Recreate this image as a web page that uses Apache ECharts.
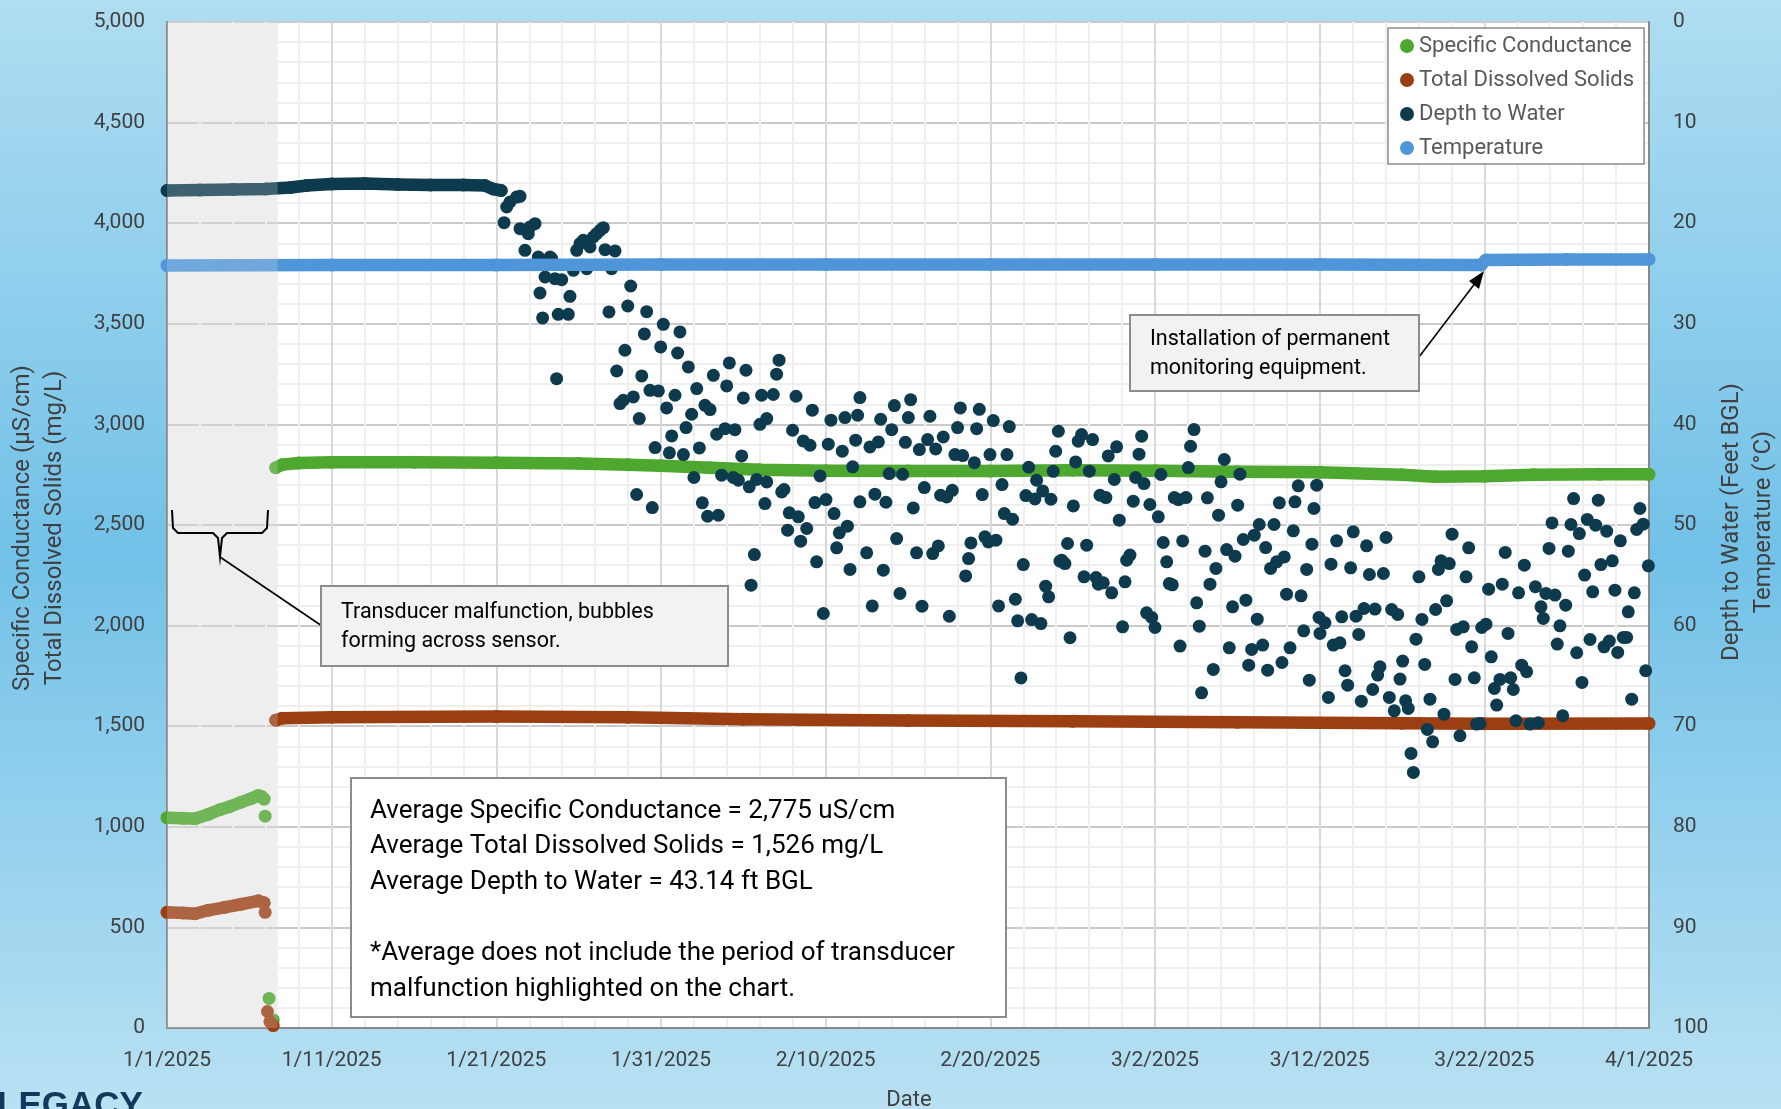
<!DOCTYPE html>
<html>
<head>
<meta charset="utf-8">
<script src="https://cdn.jsdelivr.net/npm/echarts@6/dist/echarts.min.js"></script>
<style>html,body{margin:0;padding:0;overflow:hidden;}#c{width:1781px;height:1109px;}</style>
</head>
<body>
<div id="c"></div>
<script>
// ---------- tick labels ----------
const xTickLabels = ['1/1/2025','1/11/2025','1/21/2025','1/31/2025','2/10/2025','2/20/2025','3/2/2025','3/12/2025','3/22/2025','4/1/2025'];
const leftTickLabels = ['0','500','1,000','1,500','2,000','2,500','3,000','3,500','4,000','4,500','5,000'];
const rightTickLabels = ['0','10','20','30','40','50','60','70','80','90','100'];
const legendNames = ['Specific Conductance','Total Dissolved Solids','Depth to Water','Temperature'];

// x values are days since 1/1/2025
const malfunctionPeriod = [0, 6.72];

// ---------- Specific Conductance (uS/cm) ----------
const scMalfunction = [[0,1045],[1,1042],[1.7,1040],[2.5,1062],[3.2,1085],[3.8,1100],[4.5,1122],[5.1,1140],[5.55,1155],[5.75,1150],[5.9,1138]];
const scIsolated = [[5.96,1053],[6.2,147],[6.45,40]];
const scMain = [[6.6,2785],[7,2800],[8,2808],[10,2812],[15,2812],[20,2810],[25,2806],[28,2800],[30,2795],[33,2785],[36,2775],[40,2770],[45,2768],[50,2768],[55,2772],[60,2770],[65,2765],[70,2762],[75,2750],[77,2740],[80,2742],[83,2750],[87,2752],[90,2752]];

// ---------- Total Dissolved Solids (mg/L) ----------
const tdsMalfunction = [[0,575],[1,572],[1.7,568],[2.5,585],[3.5,600],[4.5,615],[5.55,632],[5.9,622]];
const tdsIsolated = [[5.96,575],[6.1,82],[6.25,32],[6.45,12]];
const tdsMain = [[6.6,1530],[7,1540],[10,1545],[20,1548],[28,1545],[35,1535],[45,1528],[55,1525],[65,1520],[75,1515],[80,1512],[90,1514]];

// ---------- Temperature (deg C) ----------
const temperature = [[0,24.2],[10,24.15],[20,24.15],[30,24.1],[40,24.1],[50,24.1],[60,24.1],[70,24.1],[79.8,24.15],[80.1,23.65],[85,23.6],[90,23.6]];

// ---------- Depth to Water (ft BGL) ----------
const depthLine = [[0,16.75],[2,16.7],[4,16.65],[6,16.6],[7.5,16.45],[8.5,16.25],[10,16.1],[12,16.05],[14,16.15],[16,16.2],[18,16.2],[19.3,16.25],[19.8,16.6],[20.3,16.75]];

const depthScatterLateJan = [
[20.63,18.39],[20.83,17.89],[21.23,17.40],[21.44,17.33],[20.47,19.95],[21.44,20.54],[21.94,21.04],[22.04,20.38],[22.35,20.05],
[21.74,22.70],[22.55,23.36],[23.26,23.36],[23.36,23.52],[22.96,25.35],[23.56,25.51],[23.97,25.61],[22.65,26.94],[24.47,27.27],
[22.81,29.42],[23.76,29.06],[24.37,29.06],[23.66,35.45],[24.68,24.68],[24.88,22.70],[25.08,22.03],[25.28,21.70],[25.49,24.52],
[25.69,22.36],[25.89,21.37],[26.09,21.04],[26.30,20.71],[26.50,20.44],[26.60,22.63],[27.21,22.76],[27.00,24.52],[28.16,26.24],
[27.98,28.23],[26.84,28.82],[29.13,28.79],[28.99,31.01],[30.14,30.05],[31.15,30.81],[27.81,32.63],[29.98,32.30],[31.01,32.90],
[31.66,34.29],[27.31,34.69],[28.83,35.18],[32.17,36.44],[33.18,35.12],[34.15,33.89],[35.16,34.62],[33.99,36.18],[35.00,37.37],
[36.11,37.10],[27.51,37.93],[27.71,37.60],[28.32,37.27],[28.68,39.42],[29.33,36.61],[29.84,36.67],[30.85,37.10],[30.34,38.36],
[31.86,38.99],[32.67,38.10],[32.98,38.53],[31.52,40.32],[30.65,41.15],[29.64,42.30],[30.51,42.83],[31.36,43.00],[32.33,42.34],
[33.38,40.98],[33.89,40.42],[34.49,40.52],[34.90,43.13],[36.01,39.99],[36.42,39.42],[32.00,45.28],[33.68,45.05],[34.39,45.28],
[34.70,45.55],[35.36,46.21],[35.81,45.48],[36.42,45.72],[28.52,46.97],[29.47,48.27],[32.51,47.80],[32.83,49.13],[33.48,49.03],
[36.31,47.87],[35.67,52.94]
];

const depthScatterFeb = [
[37.02,35.01],[37.17,33.62],[36.82,37.03],[38.20,37.20],[39.19,38.59],[37.99,40.58],[38.64,41.64],[39.05,42.07],[40.32,39.58],
[41.17,39.32],[41.94,39.09],[42.08,37.33],[40.16,41.97],[41.01,42.66],[41.82,41.57],[41.64,44.22],[39.66,45.12],[37.33,46.71],
[37.47,46.47],[37.79,48.79],[38.34,49.19],[37.69,50.51],[38.85,50.35],[38.48,51.61],[39.35,47.77],[40.02,47.47],[40.51,48.86],
[40.83,50.78],[41.32,50.12],[40.67,52.27],[39.45,53.66],[41.48,54.42],[42.08,47.70],[35.47,55.98],[39.86,58.80],
[42.49,52.77],[42.83,58.04],[42.99,46.94],[43.66,47.74],[42.69,42.24],[43.20,41.74],[43.34,39.49],[43.86,44.89],[44.17,38.13],
[44.01,40.52],[43.50,54.49],[44.31,51.35],[44.51,56.81],[44.67,44.96],[44.84,41.78],[45.02,39.32],[45.16,37.54],[45.32,48.30],
[45.52,52.77],[45.69,42.50],[45.99,46.28],[45.85,58.07],[46.19,41.51],[46.33,39.19],[46.68,42.44],[46.50,52.84],[46.84,52.08],
[47.14,41.25],[46.98,47.04],[47.35,47.21],[47.69,46.55],[47.51,59.07],[47.85,43.00],[48.32,43.10],[48.01,40.32],[48.18,38.36],
[49.03,43.80],[48.50,55.06],[48.68,53.34],[48.82,51.78],[49.17,40.42],[49.33,38.50],[49.51,46.98],[49.67,51.18],[49.88,51.68],
[50.34,51.51],[49.98,43.00],[50.18,39.62],[50.50,58.04],[50.71,45.98],[50.85,48.86],[51.35,49.43],[51.01,43.00],[51.15,40.22],
[51.52,57.38],[51.66,59.53],[52.00,53.93],[51.86,65.20],[52.33,44.26],[52.16,47.08],[52.71,47.41],[52.81,45.55],[53.18,46.61],
[53.68,47.44],[52.51,59.40],[53.07,59.80],[53.36,56.08],[53.54,57.14],[53.82,44.66],[53.97,42.67],[54.13,40.68],[54.23,53.60]
];

const depthScatterEarlyMar = [
[54.84,61.21],[54.69,51.84],[54.33,53.50],[54.53,53.83],[55.04,48.10],[55.18,43.73],[55.34,41.67],[55.54,41.01],[56.01,44.65],
[56.21,41.51],[55.85,52.01],[55.69,55.15],[56.42,55.22],[56.56,55.88],[56.86,55.75],[56.66,47.04],[57.02,47.27],[57.16,43.13],
[57.67,42.23],[57.37,56.74],[57.53,45.48],[57.83,49.52],[58.03,60.12],[58.18,55.65],[58.28,53.50],[58.48,52.99],[58.68,47.63],
[58.82,45.28],[59.33,45.88],[59.03,42.96],[59.19,41.17],[59.69,47.96],[59.49,58.73],[59.80,59.19],[60.00,60.19],[60.20,49.19],
[60.36,44.98],[60.50,51.74],[60.71,53.66],[60.87,55.82],[61.05,55.95],[61.17,47.27],[61.42,47.47],[61.88,47.27],[61.52,62.04],
[61.68,51.58],[62.02,44.29],[62.16,42.17],[62.37,40.51],[62.53,57.74],[62.69,60.06],[62.83,66.68],[63.04,52.60],[63.18,47.30],
[63.34,55.88],[63.54,64.36],[63.70,54.32],[63.86,49.02],[64.01,45.71],[64.21,43.49],[64.35,52.44],[64.86,53.10],[64.51,62.21],
[64.71,58.13],[65.02,48.03],[65.16,44.95],[65.36,51.44],[66.03,51.01],[66.33,49.95],[65.52,57.47],[65.69,63.93],[65.87,62.37],
[66.54,61.94],[66.21,59.36],[66.72,52.24],[66.84,64.43],[67.02,54.32],[67.39,53.66],[67.85,53.17],[67.23,49.95],[67.55,47.80],
[67.71,63.67],[67.99,56.88],[68.20,62.21],[68.40,50.58],[68.50,47.70],[68.70,46.11],[68.87,57.04],[69.03,60.52],[69.21,54.42],
[69.37,65.42],[69.53,51.91],[69.65,48.36],[69.82,46.04],[69.96,59.19],[70.02,60.78]
];

const depthScatterLateMar = [
[70.32,59.72],[70.53,67.14],[70.69,53.89],[70.83,61.94],[71.23,61.71],[71.03,51.57],[71.34,59.13],[71.54,64.49],[71.70,65.92],
[71.88,54.26],[72.04,50.68],[72.21,59.06],[72.37,60.88],[72.53,67.51],[72.69,58.30],[73.36,58.36],[72.85,52.07],[73.02,54.92],
[73.22,66.35],[73.52,64.92],[73.66,64.09],[73.87,54.82],[74.03,51.24],[74.23,67.14],[74.37,58.40],[74.74,58.89],[74.53,68.47],
[74.88,65.32],[75.04,63.53],[75.22,67.47],[75.38,68.23],[75.55,72.71],[75.69,74.59],[75.85,61.35],[76.03,55.15],[76.21,59.39],
[76.38,63.86],[76.54,70.32],[76.70,67.31],[76.86,71.55],[77.04,58.40],[77.21,54.42],[77.37,53.56],[77.87,53.83],[77.55,68.80],
[77.71,57.54],[78.04,50.91],[78.22,65.35],[78.32,60.38],[78.72,60.12],[78.52,70.95],[78.89,55.15],[79.05,52.27],[79.23,62.11],
[79.39,65.19],[79.53,69.79],[79.74,69.73],[79.84,60.19],[80.10,59.86],[80.26,56.38],[80.42,63.10],[80.61,66.25],[80.95,65.35],
[80.75,67.90],[81.09,55.88],[81.27,52.73],[81.44,60.78],[81.60,65.19],[81.76,66.35],[81.92,69.46],[82.08,56.74],[82.27,63.93],
[82.57,64.59],[82.43,53.99],[82.77,69.79],[83.28,69.66],[83.10,56.14],[83.44,58.13],[83.58,59.29],[83.74,56.80],[84.29,56.97],
[83.93,52.33],[84.11,49.79],[84.43,61.84],[84.59,60.02],[84.76,68.96],[84.94,57.97],[85.10,52.60],[85.26,49.95],[85.42,47.37],
[85.61,62.70],[85.77,50.85],[85.93,65.65],[86.09,54.98],[86.25,49.45],[86.76,50.02],[86.42,61.38],[86.58,56.64],[86.92,47.53],
[87.08,53.93],[87.77,53.56],[87.27,62.11],[87.59,61.54],[87.43,50.61],[87.93,56.48],[88.10,62.67],[88.26,51.57],[88.44,61.18],
[88.64,61.18],[88.74,58.63],[88.95,67.31],[89.11,56.74],[89.25,50.45],[89.65,49.92],[89.45,48.36],[89.80,64.49],[89.96,54.06]
];

// ---------- annotation texts ----------
const statsLines = ['Average Specific Conductance = 2,775 uS/cm','Average Total Dissolved Solids = 1,526 mg/L','Average Depth to Water = 43.14 ft BGL','','*Average does not include the period of transducer','malfunction highlighted on the chart.'];
const malfunctionNote = ['Transducer malfunction, bubbles','forming across sensor.'];
const installNote = ['Installation of permanent','monitoring equipment.'];

// ---------- styles ----------
const C_SC = '#4EA72E', C_TDS = '#9B3E12', C_DTW = '#0E3A4E', C_TEMP = '#4E95D9';
const FONT = 'Roboto';
const TXT = '#404040';
const MARK = 13;

function lineSeries(name, data, color, yIdx, z) {
  return { name, type: 'line', data, xAxisIndex: 0, yAxisIndex: yIdx, z,
    symbol: 'circle', symbolSize: MARK, showSymbol: true, showAllSymbol: true,
    itemStyle: { color }, lineStyle: { color, width: MARK - 0.5, cap: 'round', join: 'round' },
    emphasis: { disabled: true }, silent: true, animation: false };
}
function scatterSeries(name, data, color, yIdx, z) {
  return { name, type: 'scatter', data, xAxisIndex: 0, yAxisIndex: yIdx, z,
    symbol: 'circle', symbolSize: MARK, itemStyle: { color, opacity: 1 },
    emphasis: { disabled: true }, silent: true, animation: false };
}

const depthScatter = depthScatterLateJan.concat(depthScatterFeb, depthScatterEarlyMar, depthScatterLateMar);

const graphics = [];
// axis titles
graphics.push({ type: 'text', x: 23, y: 528, rotation: Math.PI/2, z: 50,
  style: { text: 'Specific Conductance (µS/cm)', font: '24px ' + FONT, fill: TXT, textAlign: 'center', textVerticalAlign: 'middle' } });
graphics.push({ type: 'text', x: 55, y: 528, rotation: Math.PI/2, z: 50,
  style: { text: 'Total Dissolved Solids (mg/L)', font: '24px ' + FONT, fill: TXT, textAlign: 'center', textVerticalAlign: 'middle' } });
graphics.push({ type: 'text', x: 1732, y: 522, rotation: Math.PI/2, z: 50,
  style: { text: 'Depth to Water (Feet BGL)', font: '24px ' + FONT, fill: TXT, textAlign: 'center', textVerticalAlign: 'middle' } });
graphics.push({ type: 'text', x: 1764, y: 522, rotation: Math.PI/2, z: 50,
  style: { text: 'Temperature (°C)', font: '24px ' + FONT, fill: TXT, textAlign: 'center', textVerticalAlign: 'middle' } });
graphics.push({ type: 'text', x: 909, y: 1100, z: 50,
  style: { text: 'Date', font: '22px ' + FONT, fill: TXT, textAlign: 'center', textVerticalAlign: 'middle' } });
// logo
graphics.push({ type: 'text', x: -3, y: 1089, z: 50,
  style: { text: 'LEGACY', font: 'bold 35px "Liberation Sans"', fill: '#0F3A5C', textAlign: 'left', textVerticalAlign: 'top' } });

// stats box
graphics.push({ type: 'rect', z: 60, shape: { x: 351, y: 778, width: 655, height: 239 },
  style: { fill: '#FFFFFF', stroke: '#8C8C8C', lineWidth: 2 } });
statsLines.forEach((t, i) => {
  if (!t) return;
  graphics.push({ type: 'text', x: 370, y: 811 + i * 35.6, z: 61,
    style: { text: t, font: '26px ' + FONT, fill: '#000', textAlign: 'left', textVerticalAlign: 'middle' } });
});

// malfunction note
graphics.push({ type: 'polyline', z: 60, shape: { points: [[172,510],[173,528],[178,533],[213,533],[218,538],[220,557],[222,538],[227,533],[262,533],[267,528],[268,510]] },
  style: { stroke: '#000', lineWidth: 2, fill: null } });
graphics.push({ type: 'line', z: 60, shape: { x1: 220, y1: 557, x2: 322, y2: 626 }, style: { stroke: '#000', lineWidth: 1.6 } });
graphics.push({ type: 'rect', z: 60, shape: { x: 321, y: 586, width: 407, height: 80 },
  style: { fill: '#F2F2F2', stroke: '#8C8C8C', lineWidth: 2 } });
malfunctionNote.forEach((t, i) => {
  graphics.push({ type: 'text', x: 341, y: 613 + i * 29, z: 61,
    style: { text: t, font: '21.5px ' + FONT, fill: '#000', textAlign: 'left', textVerticalAlign: 'middle' } });
});

// installation note
graphics.push({ type: 'line', z: 60, shape: { x1: 1419, y1: 357, x2: 1476, y2: 282 }, style: { stroke: '#000', lineWidth: 1.6 } });
graphics.push({ type: 'polygon', z: 60, shape: { points: [[1484,271],[1479,289],[1469,281]] }, style: { fill: '#000' } });
graphics.push({ type: 'rect', z: 60, shape: { x: 1130, y: 315, width: 289, height: 76 },
  style: { fill: '#F2F2F2', stroke: '#8C8C8C', lineWidth: 2 } });
installNote.forEach((t, i) => {
  graphics.push({ type: 'text', x: 1150, y: 340 + i * 29, z: 61,
    style: { text: t, font: '21.5px ' + FONT, fill: '#000', textAlign: 'left', textVerticalAlign: 'middle' } });
});

const axisLineStyle = { show: true, lineStyle: { color: '#898989', width: 2 } };

const option = {
  animation: false,
  backgroundColor: { type: 'linear', x: 0, y: 0, x2: 0, y2: 1,
    colorStops: [{ offset: 0, color: '#AFDDF1' }, { offset: 0.5, color: '#72C1E8' }, { offset: 1, color: '#B9E1F3' }] },
  textStyle: { fontFamily: FONT },
  grid: { left: 167, right: 132, top: 22, bottom: 81, show: true, backgroundColor: '#FFFFFF',
    borderColor: '#898989', borderWidth: 2, z: 0, outerBoundsMode: 'none', containLabel: false },
  legend: {
    data: legendNames, orient: 'vertical', left: 1388, top: 28, itemGap: 8, icon: 'circle',
    itemWidth: 14, itemHeight: 14, padding: [5, 10, 3, 12], backgroundColor: '#FFFFFF',
    borderColor: '#8C8C8C', borderWidth: 1.5, borderRadius: 0, selectedMode: false,
    textStyle: { fontSize: 22, lineHeight: 26, color: '#595959', fontFamily: FONT }, z: 40
  },
  xAxis: {
    type: 'value', min: 0, max: 90, interval: 10, z: 1,
    axisLine: axisLineStyle, axisTick: { show: false },
    axisLabel: { formatter: v => xTickLabels[Math.round(v / 10)] || '', fontSize: 21, color: TXT, margin: 22, fontFamily: FONT, showMinLabel: true, showMaxLabel: true, hideOverlap: false },
    splitLine: { show: true, lineStyle: { color: '#D9D9D9', width: 2 } },
    minorTick: { show: false, splitNumber: 5 },
    minorSplitLine: { show: true, lineStyle: { color: '#EFEFEF', width: 2 } }
  },
  yAxis: [
    { type: 'value', min: 0, max: 5000, interval: 500, position: 'left', z: 1,
      axisLine: axisLineStyle, axisTick: { show: false },
      axisLabel: { formatter: v => leftTickLabels[Math.round(v / 500)] || '', fontSize: 21, color: TXT, margin: 22, fontFamily: FONT },
      splitLine: { show: true, lineStyle: { color: '#CACACA', width: 2 } },
      minorTick: { show: false, splitNumber: 5 },
      minorSplitLine: { show: true, lineStyle: { color: '#EFEFEF', width: 2 } } },
    { type: 'value', min: 0, max: 100, interval: 10, inverse: true, position: 'right', z: 1,
      axisLine: axisLineStyle, axisTick: { show: false },
      axisLabel: { formatter: v => rightTickLabels[Math.round(v / 10)] || '', fontSize: 21, color: TXT, margin: 24, fontFamily: FONT },
      splitLine: { show: false } }
  ],
  series: [
    { type: 'line', data: [[0, -100]], symbol: 'none', z: 0.5, silent: true, lineStyle: { opacity: 0 },
      markArea: { silent: true, z: 0.5, itemStyle: { color: '#EFEFEF' }, data: [[{ xAxis: malfunctionPeriod[0] }, { xAxis: malfunctionPeriod[1] }]] } },
    lineSeries('Specific Conductance', scMalfunction, C_SC, 0, 3),
    lineSeries('Specific Conductance', scMain, C_SC, 0, 3),
    scatterSeries('Specific Conductance', scIsolated, C_SC, 0, 3),
    lineSeries('Total Dissolved Solids', tdsMalfunction, C_TDS, 0, 3),
    lineSeries('Total Dissolved Solids', tdsMain, C_TDS, 0, 3),
    scatterSeries('Total Dissolved Solids', tdsIsolated, C_TDS, 0, 3),
    lineSeries('Depth to Water', depthLine, C_DTW, 1, 4),
    scatterSeries('Depth to Water', depthScatter, C_DTW, 1, 4),
    lineSeries('Temperature', temperature, C_TEMP, 1, 5),
    { type: 'line', data: [[0, -100]], symbol: 'none', z: 10, silent: true, lineStyle: { opacity: 0 },
      markArea: { silent: true, z: 10, itemStyle: { color: 'rgba(239,239,239,0.22)' }, data: [[{ xAxis: malfunctionPeriod[0] }, { xAxis: malfunctionPeriod[1] }]] } }
  ],
  graphic: { elements: graphics }
};

const chart = echarts.init(document.getElementById('c'), null, { renderer: 'canvas' });
chart.setOption(option);
</script>
</body>
</html>
